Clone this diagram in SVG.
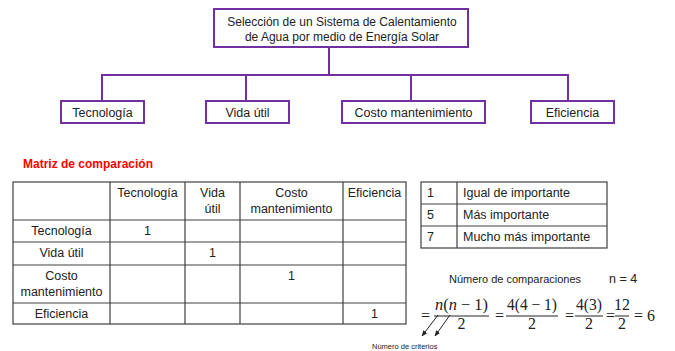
<svg xmlns="http://www.w3.org/2000/svg" width="675" height="351" viewBox="0 0 675 351">
<defs>
<style>
.box{fill:#fff;stroke:#7030A0;stroke-width:2}
.con{fill:none;stroke:#7030A0;stroke-width:2}
.t{font-family:"Liberation Sans",Arial,sans-serif;font-size:12.5px;fill:#222}
.m{font-family:"Liberation Sans",Arial,sans-serif;font-size:12.5px;fill:#222;text-anchor:middle}
.grid{fill:none;stroke:#404040;stroke-width:1.2}
.eq{font-family:"Liberation Serif","Times New Roman",serif;font-size:16px;fill:#222}
.mid{text-anchor:middle}
.bar{stroke:#222;stroke-width:1}
</style>
<marker id="ah" viewBox="0 0 10 10" refX="9" refY="5" markerWidth="6" markerHeight="6" orient="auto-start-reverse">
<path d="M0,1 L10,5 L0,9 z" fill="#222"/>
</marker>
</defs>
<rect width="675" height="351" fill="#fff"/>

<g id="connectors">
<path class="con" d="M329,48 V75 M102,101 V75 H568 V101 M246,75 V101 M411,75 V101"/>
</g>

<g id="root">
<rect class="box" x="214" y="9" width="254" height="38"/>
<text class="m" x="342" y="26" style="font-size:12px">Selección de un Sistema de Calentamiento</text>
<text class="m" x="342" y="41" style="font-size:12px">de Agua por medio de Energía Solar</text>
</g>
<g id="n-tecnologia">
<rect class="box" x="61" y="101" width="83" height="22"/>
<text class="m" x="102.5" y="117">Tecnología</text>
</g>
<g id="n-vida">
<rect class="box" x="206" y="101" width="83" height="22"/>
<text class="m" x="247.5" y="117">Vida útil</text>
</g>
<g id="n-costo">
<rect class="box" x="342" y="101" width="143" height="22"/>
<text class="m" x="413.5" y="117">Costo mantenimiento</text>
</g>
<g id="n-eficiencia">
<rect class="box" x="531" y="101" width="83" height="22"/>
<text class="m" x="572.5" y="117">Eficiencia</text>
</g>

<g id="matrix">
<text x="23" y="168" style="font-family:'Liberation Sans',Arial,sans-serif;font-size:12px;font-weight:bold;fill:#ff0000">Matriz de comparación</text>
<rect class="grid" x="13" y="182" width="393" height="142"/>
<path class="grid" d="M110,182 V324 M185,182 V324 M240,182 V324 M343,182 V324 M13,220 H406 M13,242 H406 M13,265 H406 M13,303 H406"/>
<text class="m" x="147.5" y="197">Tecnología</text>
<text class="m" x="212.5" y="197">Vida</text>
<text class="m" x="212.5" y="213">útil</text>
<text class="m" x="291.5" y="197">Costo</text>
<text class="m" x="291.5" y="213">mantenimiento</text>
<text class="m" x="374.5" y="197">Eficiencia</text>
<text class="m" x="61.5" y="235">Tecnología</text>
<text class="m" x="147.5" y="235">1</text>
<text class="m" x="61.5" y="257">Vida útil</text>
<text class="m" x="212.5" y="257">1</text>
<text class="m" x="61.5" y="280">Costo</text>
<text class="m" x="61.5" y="296">mantenimiento</text>
<text class="m" x="291.5" y="280">1</text>
<text class="m" x="61.5" y="318">Eficiencia</text>
<text class="m" x="374.5" y="318">1</text>
</g>

<g id="legend">
<rect class="grid" x="421" y="182" width="186" height="66"/>
<path class="grid" d="M457,182 V248 M421,204 H607 M421,226 H607"/>
<text class="t" x="427" y="197">1</text>
<text class="t" x="463" y="197">Igual de importante</text>
<text class="t" x="427" y="219">5</text>
<text class="t" x="463" y="219">Más importante</text>
<text class="t" x="427" y="241">7</text>
<text class="t" x="463" y="241">Mucho más importante</text>
</g>

<g id="formula">
<text class="t" x="449" y="283" style="font-size:11px">Número de comparaciones</text>
<text class="t" x="609" y="283">n = 4</text>
<text class="eq" x="421" y="321">=</text>
<text class="eq" x="435" y="310" textLength="53" lengthAdjust="spacingAndGlyphs"><tspan font-style="italic">n</tspan>(<tspan font-style="italic">n</tspan> − 1)</text>
<line class="bar" x1="434" y1="316" x2="489" y2="316"/>
<text class="eq mid" x="461.5" y="329">2</text>
<text class="eq" x="495" y="321">=</text>
<text class="eq" x="507" y="310" textLength="50" lengthAdjust="spacingAndGlyphs">4(4 − 1)</text>
<line class="bar" x1="506" y1="316" x2="558" y2="316"/>
<text class="eq mid" x="532" y="329">2</text>
<text class="eq" x="565" y="321">=</text>
<text class="eq" x="576" y="310" textLength="26" lengthAdjust="spacingAndGlyphs">4(3)</text>
<line class="bar" x1="575" y1="316" x2="603" y2="316"/>
<text class="eq mid" x="589" y="329">2</text>
<text class="eq" x="606" y="321">=</text>
<text class="eq mid" x="622" y="310">12</text>
<line class="bar" x1="615" y1="316" x2="629" y2="316"/>
<text class="eq mid" x="622" y="329">2</text>
<text class="eq" x="634" y="321">= 6</text>
<line x1="438" y1="315" x2="422" y2="336" stroke="#222" stroke-width="1" marker-end="url(#ah)"/>
<line x1="450" y1="315" x2="435" y2="336" stroke="#222" stroke-width="1" marker-end="url(#ah)"/>
<text x="372" y="349" style="font-family:'Liberation Sans',Arial,sans-serif;font-size:7.5px;fill:#222">Número de criterios</text>
</g>
</svg>
